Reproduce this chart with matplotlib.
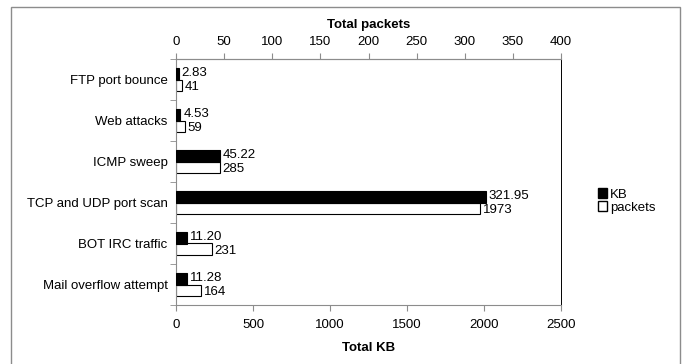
import matplotlib
matplotlib.use('Agg')
import matplotlib.pyplot as plt
from matplotlib.patches import Patch, Rectangle

plt.rcParams['font.family'] = ['Liberation Sans', 'DejaVu Sans']

categories = ['FTP port bounce', 'Web attacks', 'ICMP sweep',
              'TCP and UDP port scan', 'BOT IRC traffic', 'Mail overflow attempt']
kb_values = [2.83, 4.53, 45.22, 321.95, 11.20, 11.28]
packet_values = [41, 59, 285, 1973, 231, 164]
kb_labels = ['2.83', '4.53', '45.22', '321.95', '11.20', '11.28']
packet_labels = ['41', '59', '285', '1973', '231', '164']

top_ticks = [0, 50, 100, 150, 200, 250, 300, 350, 400]
bottom_ticks = [0, 500, 1000, 1500, 2000, 2500]

grey = '#8c8c8c'
fs = 9.5


def main():
    fig = plt.figure(figsize=(6.86, 3.64), dpi=100)
    # outer border box
    fig.patches.append(Rectangle((11 / 686, -0.05), 669 / 686, 1 - 7 / 364 + 0.05,
                                 transform=fig.transFigure, fill=False,
                                 edgecolor=grey, linewidth=1.0))

    ax = fig.add_axes([176 / 686, 1 - 305 / 364, 385 / 686, 246 / 364])
    ax_top = ax.twiny()

    pos = list(range(len(categories)))
    h = 0.29
    # white bars (bottom scale), black bars (top scale)
    ax.barh([p + h / 2 for p in pos], packet_values, height=h, color='white',
            edgecolor='black', linewidth=0.8)
    ax_top.barh([p - h / 2 for p in pos], kb_values, height=h, color='black',
                edgecolor='black', linewidth=0.8)

    for p, v, s in zip(pos, packet_values, packet_labels):
        ax.text(v + 18, p + h / 2 + 0.03, s, va='center', ha='left', fontsize=fs)
    for p, v, s in zip(pos, kb_values, kb_labels):
        ax_top.text(v + 3, p - h / 2 - 0.01, s, va='center', ha='left', fontsize=fs)

    ax.set_xlim(0, 2500)
    ax_top.set_xlim(0, 400)
    ax.set_ylim(len(categories) - 0.5, -0.5)

    ax.set_xticks(bottom_ticks)
    ax_top.set_xticks(top_ticks)
    ax.set_yticks(pos)
    ax.set_yticklabels(categories, fontsize=fs)
    ax.set_yticks([p - 0.5 for p in range(len(categories) + 1)], minor=True)
    ax.tick_params(axis='y', which='major', length=0, pad=6)
    ax.tick_params(axis='y', which='minor', length=4, color=grey, direction='out')
    ax.tick_params(axis='x', labelsize=fs, length=4, color=grey, pad=6)
    ax_top.tick_params(axis='x', labelsize=fs, length=4, color=grey, pad=4)

    for side in ('left', 'top', 'bottom'):
        ax.spines[side].set_color(grey)
        ax_top.spines[side].set_visible(False)
    ax.spines['right'].set_color('black')
    ax.spines['right'].set_linewidth(0.7)
    ax_top.spines['right'].set_visible(False)
    ax_top.spines['top'].set_visible(True)
    ax_top.spines['top'].set_color(grey)

    ax.set_xlabel('Total KB', fontsize=fs, fontweight='bold', labelpad=8)
    ax_top.set_xlabel('Total packets', fontsize=fs, fontweight='bold', labelpad=6)

    handles = [Patch(facecolor='black', edgecolor='black', label='KB'),
               Patch(facecolor='white', edgecolor='black', label='packets')]
    fig.legend(handles=handles, loc='center left', bbox_to_anchor=(586 / 686, 1 - 201 / 364),
               frameon=False, fontsize=fs, handlelength=0.7, handleheight=0.7,
               handletextpad=0.2, labelspacing=0.05)

    fig.savefig('out.png', dpi=100)


if __name__ == "__main__":
    main()
